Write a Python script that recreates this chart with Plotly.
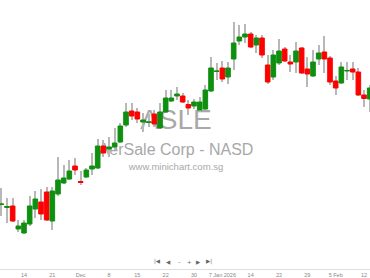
import plotly.graph_objects as go

dates = ["2025-11-10","2025-11-11","2025-11-12","2025-11-13","2025-11-14","2025-11-17","2025-11-18","2025-11-19",
         "2025-11-20","2025-11-21","2025-11-24","2025-11-25","2025-11-26","2025-11-28","2025-12-01","2025-12-02",
         "2025-12-03","2025-12-04","2025-12-05","2025-12-08","2025-12-09","2025-12-10","2025-12-11","2025-12-12",
         "2025-12-15","2025-12-16","2025-12-17","2025-12-18","2025-12-19","2025-12-22","2025-12-23","2025-12-24",
         "2025-12-26","2025-12-29","2025-12-30","2025-12-31","2026-01-02","2026-01-05","2026-01-06","2026-01-07",
         "2026-01-08","2026-01-09","2026-01-12","2026-01-13","2026-01-14","2026-01-15","2026-01-16","2026-01-20",
         "2026-01-21","2026-01-22","2026-01-23","2026-01-26","2026-01-27","2026-01-28","2026-01-29","2026-01-30",
         "2026-02-02","2026-02-03","2026-02-04","2026-02-05","2026-02-06","2026-02-09","2026-02-10","2026-02-11",
         "2026-02-12","2026-02-13"]

open_ = [6.955, 6.925, 6.94, 6.71, 6.67, 6.76, 6.91, 6.98, 7.08, 6.79,
         7.06, 7.17, 7.21, 7.34, 7.185, 7.23, 7.31, 7.32, 7.54, 7.51,
         7.53, 7.58, 7.75, 7.89, 7.88, 7.78, 7.775, 7.86, 7.72, 7.88,
         7.99, 8.04, 8.04, 7.955, 7.94, 7.90, 7.91, 8.09, 8.285, 8.32,
         8.23, 8.41, 8.59, 8.63, 8.66, 8.55, 8.62, 8.35, 8.23, 8.37,
         8.51, 8.38, 8.38, 8.52, 8.31, 8.24, 8.41, 8.48, 8.42, 8.19,
         8.17, 8.29, 8.31, 8.28, 8.05, 8.01]
high_ = [7.12, 7.02, 7.02, 6.80, 6.80, 7.04, 7.09, 7.11, 7.13, 7.13,
         7.43, 7.35, 7.40, 7.42, 7.29, 7.32, 7.47, 7.61, 7.60, 7.63,
         7.72, 7.77, 7.97, 7.97, 7.92, 7.87, 7.86, 7.90, 7.97, 8.10,
         8.10, 8.13, 8.07, 8.00, 8.01, 8.03, 8.15, 8.43, 8.37, 8.39,
         8.38, 8.78, 8.75, 8.76, 8.68, 8.65, 8.65, 8.45, 8.50, 8.61,
         8.53, 8.45, 8.58, 8.53, 8.43, 8.50, 8.55, 8.64, 8.44, 8.24,
         8.38, 8.38, 8.38, 8.32, 8.10, 8.15]
low_ = [6.84, 6.77, 6.78, 6.68, 6.66, 6.74, 6.82, 6.80, 6.79, 6.70,
        7.04, 7.16, 7.20, 7.25, 7.15, 7.22, 7.25, 7.31, 7.43, 7.43,
        7.50, 7.57, 7.73, 7.80, 7.77, 7.68, 7.73, 7.73, 7.71, 7.87,
        7.98, 8.00, 7.97, 7.85, 7.91, 7.88, 7.90, 8.08, 8.20, 8.18,
        8.16, 8.30, 8.55, 8.57, 8.52, 8.47, 8.42, 8.16, 8.20, 8.35,
        8.38, 8.28, 8.27, 8.26, 8.13, 8.23, 8.35, 8.27, 8.15, 8.05,
        8.16, 8.20, 8.20, 8.04, 7.93, 7.88]
close_ = [6.96, 6.935, 6.79, 6.74, 6.77, 6.94, 7.01, 6.86, 6.80, 7.09,
          7.20, 7.22, 7.29, 7.30, 7.175, 7.30, 7.34, 7.54, 7.47, 7.53,
          7.57, 7.74, 7.88, 7.84, 7.81, 7.80, 7.78, 7.76, 7.88, 8.02,
          8.02, 8.06, 7.98, 7.92, 7.98, 7.98, 8.10, 8.32, 8.29, 8.21,
          8.32, 8.57, 8.63, 8.66, 8.53, 8.62, 8.45, 8.18, 8.45, 8.49,
          8.39, 8.36, 8.49, 8.27, 8.26, 8.38, 8.47, 8.41, 8.18, 8.12,
          8.33, 8.295, 8.28, 8.05, 8.015, 8.12]

tick_dates = ["2025-11-14","2025-11-21","2025-12-01","2025-12-08","2025-12-15","2025-12-22","2025-12-30",
              "2026-01-07","2026-01-14","2026-01-22","2026-01-29","2026-02-05","2026-02-12"]
tick_text = ["14","21","Dec","8","15","22","30","7 Jan 2026","14","22","29","5 Feb","12"]

GREEN = "#0f8f0f"
RED = "#ff0000"
WICK = "#b8b8b8"
WM = "#a8a8a8"

body_hi = [max(o, c) for o, c in zip(open_, close_)]
body_lo = [min(o, c) for o, c in zip(open_, close_)]
wick_len = [h - l for h, l in zip(high_, low_)]

fig = go.Figure()
fig.add_trace(go.Bar(x=dates, y=wick_len, base=low_, width=0.17,
                     marker=dict(color=WICK, line=dict(width=0)),
                     hoverinfo="skip", showlegend=False))
fig.add_trace(go.Candlestick(x=dates, open=open_, high=body_hi, low=body_lo, close=close_,
                             increasing=dict(fillcolor=GREEN, line=dict(color=GREEN, width=1)),
                             decreasing=dict(fillcolor=RED, line=dict(color=RED, width=1)),
                             whiskerwidth=0, showlegend=False))

def wm(text, cx, cy, size, w, h):
    fig.add_shape(type="rect", xref="paper", yref="paper",
                  x0=cx - w / 2, x1=cx + w / 2, y0=cy - h / 2, y1=cy + h / 2,
                  line=dict(width=0), fillcolor="rgba(0,0,0,0)", layer="below",
                  label=dict(text=text, textposition="middle center",
                             font=dict(size=size, color=WM, family="Liberation Sans, Arial")))

wm("ASLE", 176 / 370, (268 - 116) / 268, 28, 0.4, 0.15)
wm("AerSale Corp - NASD", 176 / 370, (268 - 147) / 268, 16, 0.6, 0.08)
wm("www.minichart.com.sg", 176 / 370, (268 - 165) / 268, 9.5, 0.5, 0.05)

nav = [("|◀", 157), ("◀", 168), ("–", 179), ("+", 189), ("▶", 199), ("▶|", 209)]
for sym, px in nav:
    fig.add_annotation(text=sym, x=px / 370, y=(268 - 266) / 268, xref="paper", yref="paper",
                       showarrow=False, font=dict(size=5.5, color="#666666", family="DejaVu Sans"))

x0 = -24 / 5.667 + 4
x1 = 346 / 5.667 + 4
fig.update_layout(
    width=370, height=278,
    margin=dict(l=0, r=0, t=0, b=9),
    paper_bgcolor="white", plot_bgcolor="white",
    boxgap=0.1, boxgroupgap=0.1,
    showlegend=False,
    xaxis=dict(type="category", range=[x0, x1], rangeslider=dict(visible=False),
               tickmode="array", tickvals=tick_dates, ticktext=tick_text,
               tickfont=dict(size=5.5, color="#888888", family="Liberation Sans, Arial"),
               showgrid=False, zeroline=False, showline=True, linecolor="#dddddd", linewidth=1,
               ticks="", fixedrange=True),
    yaxis=dict(range=[6.31, 9.0], visible=False, showgrid=False, fixedrange=True),
)

fig.write_html("out.html", config={"displayModeBar": False})
